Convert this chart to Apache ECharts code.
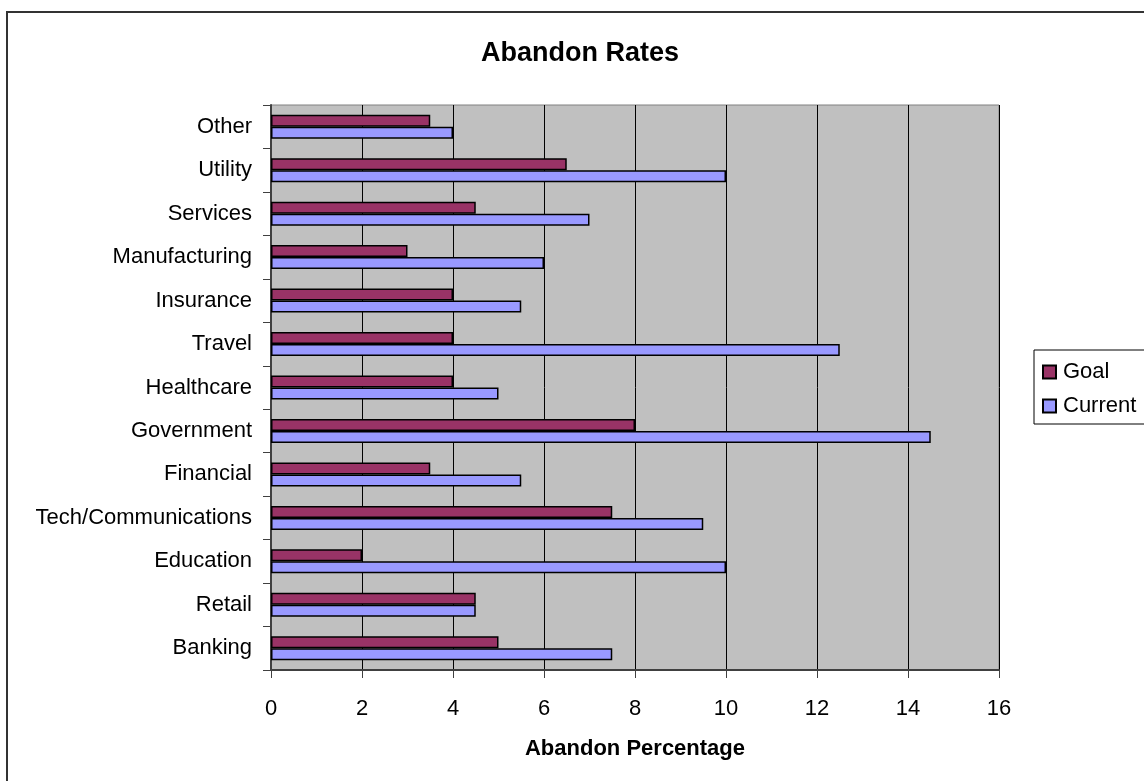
<!DOCTYPE html>
<html>
<head>
<meta charset="utf-8">
<title>Abandon Rates</title>
<script src="https://cdn.jsdelivr.net/npm/echarts@6/dist/echarts.min.js"></script>
<style>
  html, body { margin: 0; padding: 0; background: #ffffff; }
  #chart { width: 1144px; height: 781px; }
</style>
</head>
<body>
<div id="chart"></div>
<script>
// Industries, listed bottom to top on the category axis
const categories = [
  'Banking', 'Retail', 'Education', 'Tech/Communications', 'Financial',
  'Government', 'Healthcare', 'Travel', 'Insurance', 'Manufacturing',
  'Services', 'Utility', 'Other'
];
// Abandon rate targets (%)
const goalValues = [5, 4.5, 2, 7.5, 3.5, 8, 4, 4, 4, 3, 4.5, 6.5, 3.5];
// Abandon rates as measured today (%)
const currentValues = [7.5, 4.5, 10, 9.5, 5.5, 14.5, 5, 12.5, 5.5, 6, 7, 10, 4];
// Percentage axis ticks
const xTicks = [0, 2, 4, 6, 8, 10, 12, 14, 16];

const FONT = 'Arial, "Liberation Sans", sans-serif';

const chart = echarts.init(document.getElementById('chart'), null, { renderer: 'canvas' });

chart.setOption({
  animation: false,
  backgroundColor: '#ffffff',
  title: {
    text: 'Abandon Rates',
    left: 481,
    top: 40,
    padding: 0,
    textStyle: { fontFamily: FONT, fontSize: 27, fontWeight: 'bold', color: '#000' }
  },
  graphic: [{
    type: 'rect',
    shape: { x: 7, y: 12, width: 1160, height: 800 },
    style: { fill: 'none', stroke: '#333333', lineWidth: 2 },
    silent: true,
    z: 100
  }],
  legend: {
    orient: 'vertical',
    left: 1034,
    top: 350,
    padding: [11, 20, 7, 8],
    itemWidth: 13,
    itemHeight: 13,
    itemGap: 12,
    icon: 'rect',
    borderColor: '#000',
    borderWidth: 1,
    borderRadius: 0,
    data: ['Goal', 'Current'],
    textStyle: { fontFamily: FONT, fontSize: 22, color: '#000', padding: [0, 0, 0, 2] }
  },
  grid: {
    left: 271,
    right: 145,
    top: 105,
    bottom: 111,
    show: true,
    backgroundColor: '#C0C0C0',
    borderColor: '#808080',
    borderWidth: 1
  },
  xAxis: {
    type: 'value',
    min: xTicks[0],
    max: xTicks[xTicks.length - 1],
    interval: xTicks[1] - xTicks[0],
    name: 'Abandon Percentage',
    nameLocation: 'middle',
    nameGap: 68,
    nameTextStyle: { fontFamily: FONT, fontSize: 22, fontWeight: 'bold', color: '#000' },
    axisLine: { show: true, lineStyle: { color: '#404040', width: 2 } },
    axisTick: { show: true, length: 8, lineStyle: { color: '#404040', width: 1 } },
    axisLabel: { margin: 28, fontFamily: FONT, fontSize: 22, color: '#000' },
    splitLine: { show: true, lineStyle: { color: '#000', width: 1 } }
  },
  yAxis: {
    type: 'category',
    data: categories,
    axisLine: { show: true, lineStyle: { color: '#404040', width: 2 } },
    axisTick: { show: true, length: 8, lineStyle: { color: '#404040', width: 1 } },
    axisLabel: { margin: 19, fontFamily: FONT, fontSize: 22, color: '#000' },
    splitLine: { show: false }
  },
  series: [
    {
      name: 'Goal',
      type: 'bar',
      data: goalValues,
      barWidth: 12,
      barGap: '0%',
      itemStyle: { color: '#993366', borderColor: '#000', borderWidth: 1.5 }
    },
    {
      name: 'Current',
      type: 'bar',
      data: currentValues,
      barWidth: 12,
      barGap: '0%',
      itemStyle: { color: '#9999FF', borderColor: '#000', borderWidth: 1.5 }
    }
  ]
});
</script>
</body>
</html>
